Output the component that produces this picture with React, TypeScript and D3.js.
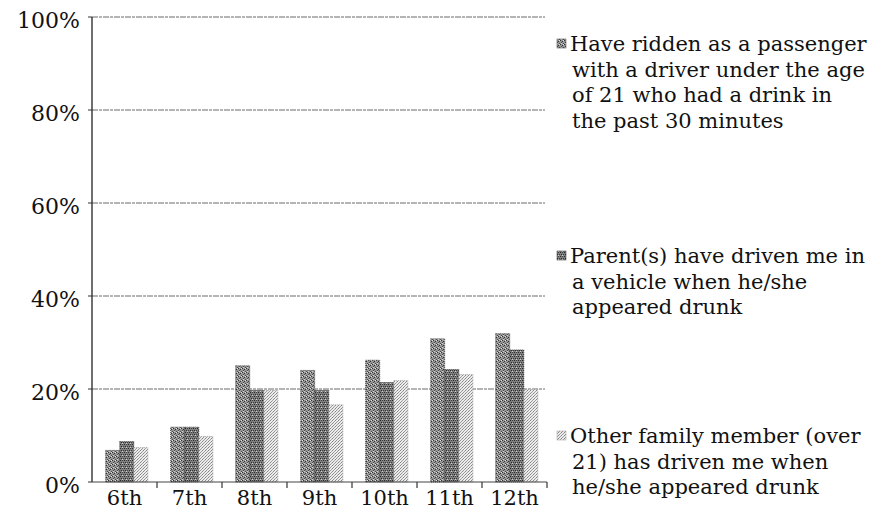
import React from "react";
import * as d3 from "d3";

const grades = ["6th", "7th", "8th", "9th", "10th", "11th", "12th"];
const riddenUnder21 = [6.8, 11.8, 25.0, 24.0, 26.2, 30.8, 31.9];
const parentDrunk = [8.7, 11.8, 19.7, 19.7, 21.4, 24.2, 28.4];
const otherFamily = [7.4, 9.8, 19.7, 16.6, 21.8, 23.1, 19.9];
const yTicks = [0, 20, 40, 60, 80, 100];
const legendLines = [
  ["Have ridden as a passenger", "with a driver under the age", "of 21 who had a drink in", "the past 30 minutes"],
  ["Parent(s) have driven me in", "a vehicle when he/she", "appeared drunk"],
  ["Other family member (over", "21) has driven me when", "he/she appeared drunk"],
];

const W = 886, H = 519;
const FONT = "DejaVu Serif, serif";

export default function App() {
  const x0 = 92, x1 = 547, yTop = 17, yBot = 482;
  const x = d3.scaleBand<string>().domain(grades).range([x0, x1]).padding(0);
  const bw = x.bandwidth();
  const sub = d3.scaleBand<number>().domain([0, 1, 2]).range([bw * 0.21, bw * 0.86]).padding(0);
  const y = d3.scaleLinear().domain([0, 100]).range([yBot, yTop]);
  const series = [riddenUnder21, parentDrunk, otherFamily];
  const fills = ["url(#p1)", "url(#p2)", "url(#p3)"];
  const strokes = ["#3a3a3a", "#2e2e2e", "#9a9a9a"];
  const legendTop = [51, 263, 443];
  const lineH = 25.5;

  return (
    <svg width={W} height={H} style={{ position: "absolute", left: 0, top: 0, background: "#fff" }}>
      <defs>
        <pattern id="p1" width="4" height="4" patternUnits="userSpaceOnUse">
          <rect width="4" height="4" fill="#979797" />
          <rect x="0" y="0" width="1" height="1" fill="#333" />
          <rect x="2" y="1" width="1" height="1" fill="#333" />
          <rect x="1" y="2" width="1" height="1" fill="#4a4a4a" />
          <rect x="3" y="3" width="1" height="1" fill="#4a4a4a" />
          <rect x="3" y="0" width="1" height="1" fill="#e0e0e0" />
          <rect x="1" y="3" width="1" height="1" fill="#d0d0d0" />
        </pattern>
        <pattern id="p2" width="4" height="4" patternUnits="userSpaceOnUse">
          <rect width="4" height="4" fill="#808080" />
          <rect x="0" y="0" width="1" height="1" fill="#2a2a2a" />
          <rect x="2" y="0" width="1" height="1" fill="#3e3e3e" />
          <rect x="1" y="2" width="1" height="1" fill="#2a2a2a" />
          <rect x="3" y="2" width="1" height="1" fill="#3e3e3e" />
          <rect x="2" y="3" width="1" height="1" fill="#d0d0d0" />
        </pattern>
        <pattern id="p3" width="3" height="3" patternUnits="userSpaceOnUse">
          <rect width="3" height="3" fill="#ececec" />
          <rect x="0" y="0" width="1" height="1" fill="#858585" />
          <rect x="2" y="1" width="1" height="1" fill="#a0a0a0" />
          <rect x="1" y="2" width="1" height="1" fill="#959595" />
        </pattern>
      </defs>

      {/* gridlines */}
      {yTicks.filter((t) => t > 0).map((t) => (
        <line key={"g" + t} x1={x0} x2={545} y1={y(t)} y2={y(t)} stroke="#6a6a6a" strokeWidth={1} strokeDasharray="6 1 3 1" />
      ))}

      {/* bars */}
      {grades.map((g, i) => (
        <g key={g} transform={`translate(${x(g)},0)`}>
          {series.map((s, k) => (
            <rect key={k} x={sub(k)} y={y(s[i])} width={sub.bandwidth()} height={yBot - y(s[i])}
              fill={fills[k]} stroke={strokes[k]} strokeWidth={0.8} strokeDasharray="1 1" />
          ))}
        </g>
      ))}

      {/* y axis */}
      <line x1={x0} x2={x0} y1={yTop} y2={yBot} stroke="#222" strokeWidth={1.3} />
      {yTicks.map((t) => (
        <g key={"yt" + t}>
          <line x1={x0 - 4} x2={x0} y1={y(t)} y2={y(t)} stroke="#333" strokeWidth={1} />
          <text x={80} y={y(t) + 5} textAnchor="end" dominantBaseline="middle" fontFamily={FONT} fontSize={22} fill="#111">{t}%</text>
        </g>
      ))}

      {/* x axis */}
      <line x1={x0} x2={x1} y1={yBot} y2={yBot} stroke="#444" strokeWidth={1} />
      {grades.map((g, i) => (
        <line key={"xt" + g} x1={x0 + (i + 1) * bw} x2={x0 + (i + 1) * bw} y1={yBot} y2={yBot + 6} stroke="#333" strokeWidth={1.2} />
      ))}
      {grades.map((g) => (
        <text key={"xl" + g} x={(x(g) as number) + bw / 2} y={505} textAnchor="middle" fontFamily={FONT} fontSize={21} fill="#111">{g}</text>
      ))}

      {/* legend */}
      {legendLines.map((lines, k) => (
        <g key={"lg" + k}>
          <rect x={557} y={legendTop[k] - 12} width={9} height={9} fill={fills[k]} stroke={strokes[k]} strokeWidth={0.5} />
          {lines.map((ln, j) => (
            <text key={j} x={j === 0 ? 570 : 572} y={legendTop[k] + j * lineH} fontFamily={FONT} fontSize={21} fill="#111">{ln}</text>
          ))}
        </g>
      ))}
    </svg>
  );
}
